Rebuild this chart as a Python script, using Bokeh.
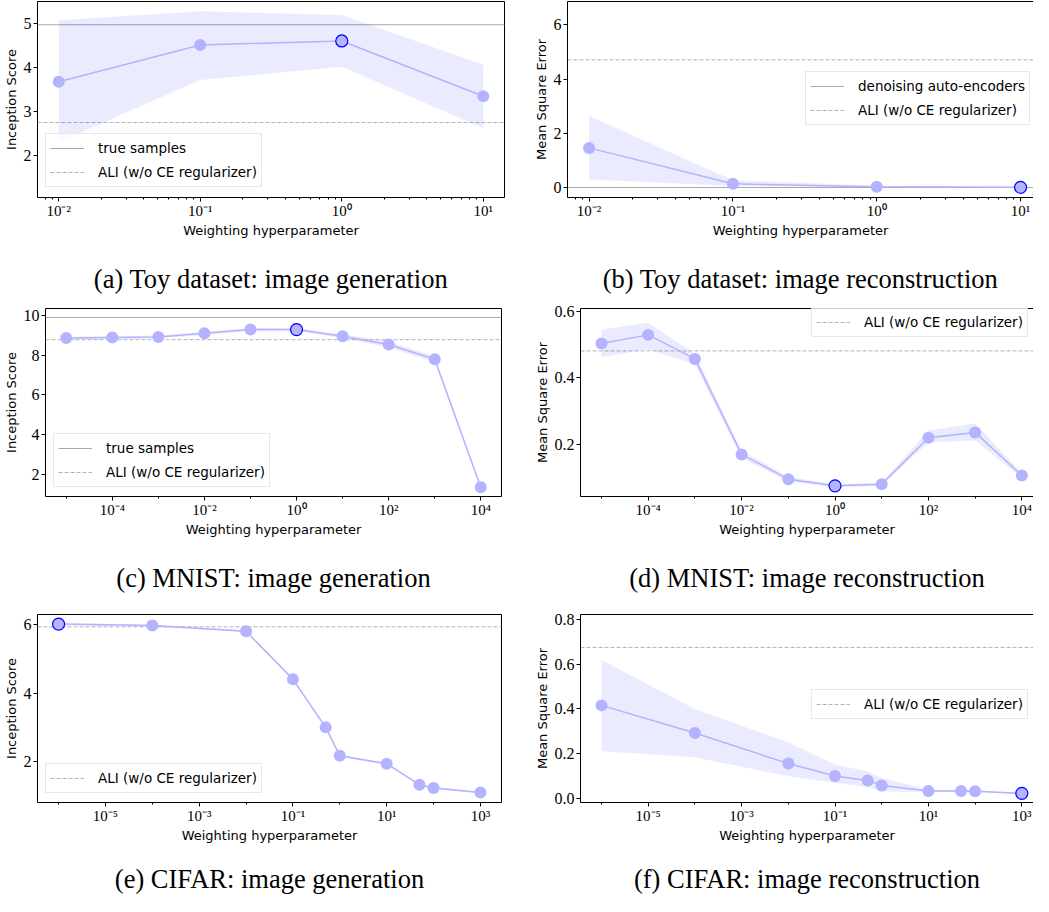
from bokeh.plotting import figure
from bokeh.layouts import column, row
from bokeh.models import (Range1d, Legend, LegendItem, FixedTicker,
                          CustomJSTickFormatter, PrintfTickFormatter, LinearAxis)
from bokeh.embed import file_html
from bokeh.resources import INLINE

# ---------------- data ----------------
# (a) Toy dataset: image generation
toy_x = [1e-2, 1e-1, 1e0, 1e1]
toy_gen_y = [3.68, 4.52, 4.61, 3.35]
toy_gen_lo = [2.30, 3.72, 4.02, 2.62]
toy_gen_hi = [5.08, 5.29, 5.20, 4.07]
toy_gen_true = 4.98
toy_gen_ali = 2.75
# (b) Toy dataset: image reconstruction
toy_rec_y = [1.46, 0.135, 0.025, 0.005]
toy_rec_lo = [0.29, 0.05, 0.01, 0.0]
toy_rec_hi = [2.64, 0.27, 0.06, 0.02]
toy_rec_dae = 0.0
toy_rec_ali = 4.71
# (c) MNIST: image generation
mnist_x = [1e-5, 1e-4, 1e-3, 1e-2, 1e-1, 1e0, 1e1, 1e2, 1e3, 1e4]
mnist_gen_y = [8.85, 8.88, 8.91, 9.09, 9.28, 9.28, 8.94, 8.53, 7.79, 1.35]
mnist_gen_lo = [8.78, 8.81, 8.84, 9.01, 9.20, 9.21, 8.84, 8.38, 7.64, 1.30]
mnist_gen_hi = [8.92, 8.95, 8.98, 9.17, 9.36, 9.35, 9.04, 8.68, 7.94, 1.40]
mnist_gen_true = 9.89
mnist_gen_ali = 8.77
# (d) MNIST: image reconstruction
mnist_rec_y = [0.503, 0.529, 0.457, 0.171, 0.097, 0.077, 0.082, 0.221, 0.237, 0.108]
mnist_rec_lo = [0.462, 0.486, 0.440, 0.160, 0.090, 0.072, 0.078, 0.207, 0.213, 0.100]
mnist_rec_hi = [0.544, 0.566, 0.472, 0.182, 0.104, 0.082, 0.087, 0.243, 0.264, 0.115]
mnist_rec_ali = 0.481
# (e) CIFAR: image generation
cifar_x = [1e-6, 1e-4, 1e-2, 1e-1, 0.5, 1.0, 10.0, 50.0, 100.0, 1000.0]
cifar_gen_y = [6.01, 5.97, 5.80, 4.40, 3.00, 2.17, 1.94, 1.33, 1.23, 1.10]
cifar_gen_lo = [5.98, 5.94, 5.77, 4.36, 2.96, 2.13, 1.91, 1.30, 1.20, 1.07]
cifar_gen_hi = [6.04, 6.00, 5.83, 4.44, 3.04, 2.21, 1.97, 1.36, 1.26, 1.13]
cifar_gen_ali = 5.93
# (f) CIFAR: image reconstruction
cifar_rec_y = [0.416, 0.292, 0.155, 0.099, 0.079, 0.056, 0.032, 0.032, 0.031, 0.021]
cifar_rec_lo = [0.21, 0.183, 0.098, 0.069, 0.05, 0.028, 0.028, 0.028, 0.027, 0.018]
cifar_rec_hi = [0.62, 0.40, 0.25, 0.15, 0.12, 0.09, 0.038, 0.036, 0.035, 0.025]
cifar_rec_ali = 0.676

# ---------------- style ----------------
LINE = "#b3b3ff"
EDGE = "#0000ff"
GRAY_SOLID = "#a8a8a8"
GRAY_DASH = "#b4b4b4"
SANS = "DejaVu Sans"
SERIF = "Liberation Serif"

SUP_JS = """
const e = Math.round(Math.log10(tick));
const m = {"-": "\\u207b", "0": "\\u2070", "1": "\\u00b9", "2": "\\u00b2", "3": "\\u00b3",
           "4": "\\u2074", "5": "\\u2075", "6": "\\u2076", "7": "\\u2077", "8": "\\u2078", "9": "\\u2079"};
return "10" + String(e).split("").map(c => m[c]).join("");
"""


def minors(k0, k1):
    return [m * 10.0 ** k for k in range(k0, k1) for m in range(2, 10)]


def panel(x, y, lo, hi, best, hlines, xr, yr, yticks, yfmt, major, minor,
          ylabel, caption, leg_xy, right, w, h, bl, br, bt, bb, cap_gap):
    p = figure(width=w, height=h, x_axis_type="log",
               x_range=Range1d(10 ** xr[0], 10 ** xr[1]), y_range=Range1d(*yr),
               output_backend="svg", toolbar_location=None,
               min_border_left=bl, min_border_right=br,
               min_border_top=bt, min_border_bottom=bb,
               background_fill_color="white", border_fill_color="white")
    p.xgrid.visible = False
    p.ygrid.visible = False

    p.xaxis.ticker = FixedTicker(ticks=major, minor_ticks=minor)
    p.xaxis.formatter = CustomJSTickFormatter(code=SUP_JS)
    p.yaxis.ticker = FixedTicker(ticks=yticks)
    p.yaxis.formatter = PrintfTickFormatter(format=yfmt)
    p.xaxis.axis_label = "Weighting hyperparameter"
    p.yaxis.axis_label = ylabel
    for ax in (p.xaxis[0], p.yaxis[0]):
        ax.major_tick_out = 4
        ax.major_tick_in = 0
        ax.minor_tick_out = 2
        ax.minor_tick_in = 0
        ax.major_tick_line_color = "black"
        ax.minor_tick_line_color = "black"
        ax.major_label_text_font = SERIF
        ax.major_label_text_color = "black"
        ax.axis_label_text_font = SANS
        ax.axis_label_text_font_size = "13px"
        ax.axis_label_text_font_style = "normal"
        ax.axis_label_text_color = "black"
    p.xaxis.major_label_text_font_size = "15px"
    p.yaxis.major_label_text_font_size = "16px"
    p.xaxis.major_label_standoff = 1
    p.xaxis.axis_label_standoff = 1
    p.yaxis.major_label_standoff = 2
    p.yaxis.axis_label_standoff = 2
    if right:
        p.outline_line_color = None
        p.xaxis.axis_line_color = "black"
        p.yaxis.axis_line_color = "black"
        top = LinearAxis(ticker=FixedTicker(ticks=[]), major_tick_out=0, major_tick_in=0,
                         minor_tick_out=0, minor_tick_in=0, major_label_standoff=0,
                         major_label_text_font_size="0px", axis_line_color="black")
        p.add_layout(top, "above")
    else:
        p.outline_line_color = "black"
        p.outline_line_width = 1
        p.xaxis.axis_line_color = None
        p.yaxis.axis_line_color = None

    # caption under the panel, drawn as the label of an empty extra axis
    cap = LinearAxis(ticker=FixedTicker(ticks=[]), axis_line_color=None,
                     major_tick_out=0, major_tick_in=0, minor_tick_out=0, minor_tick_in=0,
                     major_label_standoff=0, major_label_text_font_size="0px",
                     axis_label=caption, axis_label_text_font=SERIF,
                     axis_label_text_font_size="26.5px", axis_label_text_font_style="normal",
                     axis_label_text_color="black", axis_label_standoff=cap_gap)
    p.add_layout(cap, "below")

    p.varea(x=x, y1=lo, y2=hi, fill_color="blue", fill_alpha=0.08)
    items = []
    x_ends = [10 ** xr[0], 10 ** xr[1]]
    for label, val, dash, col in hlines:
        r = p.line(x=x_ends, y=[val, val], line_color=col, line_width=1,
                   line_dash=dash, level="underlay")
        items.append(LegendItem(label=label, renderers=[r]))
    p.line(x, y, line_color=LINE, line_width=1.5)
    p.scatter(x, y, size=12, fill_color=LINE, line_color=None)
    p.scatter(x=[x[best]], y=[y[best]], size=12, fill_color=LINE,
              line_color=EDGE, line_width=1.2)

    leg = Legend(items=items, location=leg_xy, padding=4, spacing=4, margin=0,
                 label_standoff=14, glyph_width=34, glyph_height=20, label_height=20,
                 label_text_font=SANS, label_text_font_size="13.5px",
                 label_text_color="black", border_line_color="#d0d0d0",
                 border_line_width=1, background_fill_color="white",
                 background_fill_alpha=0.8)
    p.add_layout(leg)
    return p


LW, RW = 522, 511

fa = panel(toy_x, toy_gen_y, toy_gen_lo, toy_gen_hi, 2,
           [("true samples", toy_gen_true, "solid", GRAY_SOLID),
            ("ALI (w/o CE regularizer)", toy_gen_ali, "4 2", GRAY_DASH)],
           (-2.15, 1.15), (1.04, 5.51), [2, 3, 4, 5], "%d",
           [1e-2, 1e-1, 1e0, 1e1], minors(-3, 2),
           "Inception Score", "(a) Toy dataset: image generation", (8, 10), False,
           LW, 298, 32, 18, 1, 101, 23)
fb = panel(toy_x, toy_rec_y, toy_rec_lo, toy_rec_hi, 3,
           [("denoising auto-encoders", toy_rec_dae, "solid", GRAY_SOLID),
            ("ALI (w/o CE regularizer)", toy_rec_ali, "4 2", GRAY_DASH)],
           (-2.15, 1.09), (-0.37, 6.86), [0, 2, 4, 6], "%d",
           [1e-2, 1e-1, 1e0, 1e1], minors(-3, 2),
           "Mean Square Error", "(b) Toy dataset: image reconstruction", (238, 72), True,
           RW, 298, 45, 0, 1, 101, 23)
fc = panel(mnist_x, mnist_gen_y, mnist_gen_lo, mnist_gen_hi, 5,
           [("true samples", mnist_gen_true, "solid", GRAY_SOLID),
            ("ALI (w/o CE regularizer)", mnist_gen_ali, "4 2", GRAY_DASH)],
           (-5.45, 4.45), (0.88, 10.34), [2, 4, 6, 8, 10], "%d",
           [1e-4, 1e-2, 1e0, 1e2, 1e4], [1e-5, 1e-3, 1e-1, 1e1, 1e3],
           "Inception Score", "(c) MNIST: image generation", (8, 9), False,
           LW, 297, 40, 21, 10, 91, 23)
fd = panel(mnist_x, mnist_rec_y, mnist_rec_lo, mnist_rec_hi, 5,
           [("ALI (w/o CE regularizer)", mnist_rec_ali, "4 2", GRAY_DASH)],
           (-5.45, 4.25), (0.045, 0.608), [0.2, 0.4, 0.6], "%.1f",
           [1e-4, 1e-2, 1e0, 1e2, 1e4], [1e-5, 1e-3, 1e-1, 1e1, 1e3],
           "Mean Square Error", "(d) MNIST: image reconstruction", (231, 159), True,
           RW, 297, 58, 0, 10, 91, 23)
fe = panel(cifar_x, cifar_gen_y, cifar_gen_lo, cifar_gen_hi, 0,
           [("ALI (w/o CE regularizer)", cifar_gen_ali, "4 2", GRAY_DASH)],
           (-6.45, 3.45), (0.81, 6.29), [2, 4, 6], "%d",
           [1e-5, 1e-3, 1e-1, 1e1, 1e3], [1e-6, 1e-4, 1e-2, 1e0, 1e2],
           "Inception Score", "(e) CIFAR: image generation", (8, 9), False,
           LW, 301, 32, 21, 19, 86, 18)
ff = panel(cifar_x, cifar_rec_y, cifar_rec_lo, cifar_rec_hi, 9,
           [("ALI (w/o CE regularizer)", cifar_rec_ali, "4 2", GRAY_DASH)],
           (-6.45, 3.25), (-0.02, 0.824), [0.0, 0.2, 0.4, 0.6, 0.8], "%.1f",
           [1e-5, 1e-3, 1e-1, 1e1, 1e3], [1e-6, 1e-4, 1e-2, 1e0, 1e2],
           "Mean Square Error", "(f) CIFAR: image reconstruction", (231, 83), True,
           RW, 301, 58, 0, 19, 86, 18)

layout = column(row(fa, fb), row(fc, fd), row(fe, ff))
open("out.html", "w").write(file_html(layout, INLINE))
